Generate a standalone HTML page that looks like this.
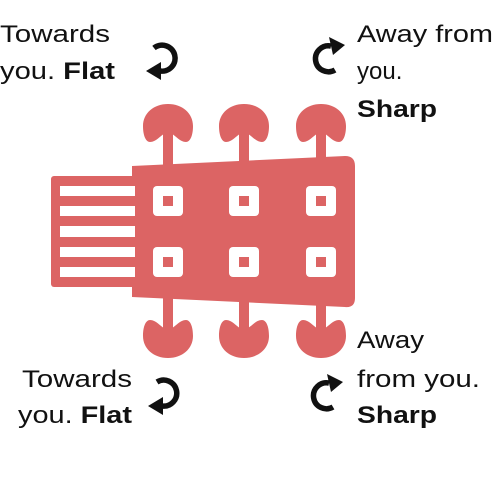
<!DOCTYPE html>
<html><head><meta charset="utf-8"><style>
html,body{margin:0;padding:0;background:#fff;}
svg{display:block;}
text{font-family:"Liberation Sans",sans-serif;font-size:24px;fill:#111;}
.b{font-weight:bold;}
</style></head><body>
<svg width="500" height="500" viewBox="0 0 500 500">
<defs>
<path id="knobTop" d="M0,0 C14,0 25,9 25,22 C25,32 22,38 18,38 C12,38 8,32 4,30 L-4,30 C-8,32 -12,38 -18,38 C-22,38 -25,32 -25,22 C-25,9 -14,0 0,0 Z"/>
<path id="knobBot" d="M0,40 C14,40 25,31 25,18 C25,8 22,2 18,2 C12,2 8,8 4,10 L-4,10 C-8,8 -12,2 -18,2 C-22,2 -25,8 -25,18 C-25,31 -14,40 0,40 Z"/>
</defs>
<g fill="#dc6464">
  <rect x="51" y="176" width="84" height="111" rx="3"/>
  <path d="M132,166 L345,156 Q355,156 355,166 L355,298 Q355,308 345,307 L132,297 Z"/>
  <rect x="163" y="130" width="10" height="40"/>
  <rect x="239" y="130" width="10" height="40"/>
  <rect x="316" y="130" width="10" height="30"/>
  <rect x="163" y="295" width="10" height="35"/>
  <rect x="239" y="298" width="10" height="32"/>
  <rect x="316" y="300" width="10" height="30"/>
  <use href="#knobTop" x="168" y="104"/>
  <use href="#knobTop" x="244" y="104"/>
  <use href="#knobTop" x="321" y="104"/>
  <use href="#knobBot" x="168" y="318"/>
  <use href="#knobBot" x="244" y="318"/>
  <use href="#knobBot" x="321" y="318"/>
</g>
<g fill="#fff">
  <rect x="60" y="186" width="75" height="10"/>
  <rect x="60" y="206" width="75" height="10"/>
  <rect x="60" y="226" width="75" height="11"/>
  <rect x="60" y="247" width="75" height="10"/>
  <rect x="60" y="267" width="75" height="10"/>
</g>
<g>
  <g fill="#fff">
    <rect x="153" y="186" width="30" height="30" rx="4"/><rect x="229" y="186" width="30" height="30" rx="4"/><rect x="306" y="186" width="30" height="30" rx="4"/>
    <rect x="153" y="247" width="30" height="30" rx="4"/><rect x="229" y="247" width="30" height="30" rx="4"/><rect x="306" y="247" width="30" height="30" rx="4"/>
  </g>
  <g fill="#dc6464">
    <rect x="163" y="196" width="10" height="10"/><rect x="239" y="196" width="10" height="10"/><rect x="316" y="196" width="10" height="10"/>
    <rect x="163" y="257" width="10" height="10"/><rect x="239" y="257" width="10" height="10"/><rect x="316" y="257" width="10" height="10"/>
  </g>
</g>
<g fill="none" stroke="#111" stroke-width="5.5">
  <path d="M154,48 A13,13 0 1 1 160,71"/>
  <path d="M335,70 A13,13 0 1 1 331,46"/>
  <path d="M157,382 A13,13 0 1 1 162,406"/>
  <path d="M333,407 A13,13 0 1 1 329,383"/>
</g>
<g fill="#111">
  <polygon points="146,71 161,62 161,80"/>
  <polygon points="345,45 329,37 333,55"/>
  <polygon points="148,406 163,397 163,415"/>
  <polygon points="343,382 327,374 331,392"/>
</g>
<g>
  <text x="0" y="42" textLength="110" lengthAdjust="spacingAndGlyphs">Towards</text>
  <text x="0" y="79" textLength="115" lengthAdjust="spacingAndGlyphs">you. <tspan class="b">Flat</tspan></text>
</g>
<g>
  <text x="357" y="42" textLength="136" lengthAdjust="spacingAndGlyphs">Away from</text>
  <text x="357" y="79">you.</text>
  <text x="357" y="117" class="b" textLength="80" lengthAdjust="spacingAndGlyphs">Sharp</text>
</g>
<g>
  <text x="22" y="387" textLength="110" lengthAdjust="spacingAndGlyphs">Towards</text>
  <text x="18" y="423" textLength="114" lengthAdjust="spacingAndGlyphs">you. <tspan class="b">Flat</tspan></text>
</g>
<g>
  <text x="357" y="348" textLength="67" lengthAdjust="spacingAndGlyphs">Away</text>
  <text x="357" y="387" textLength="123" lengthAdjust="spacingAndGlyphs">from you.</text>
  <text x="357" y="423" class="b" textLength="80" lengthAdjust="spacingAndGlyphs">Sharp</text>
</g>
</svg>
</body></html>
